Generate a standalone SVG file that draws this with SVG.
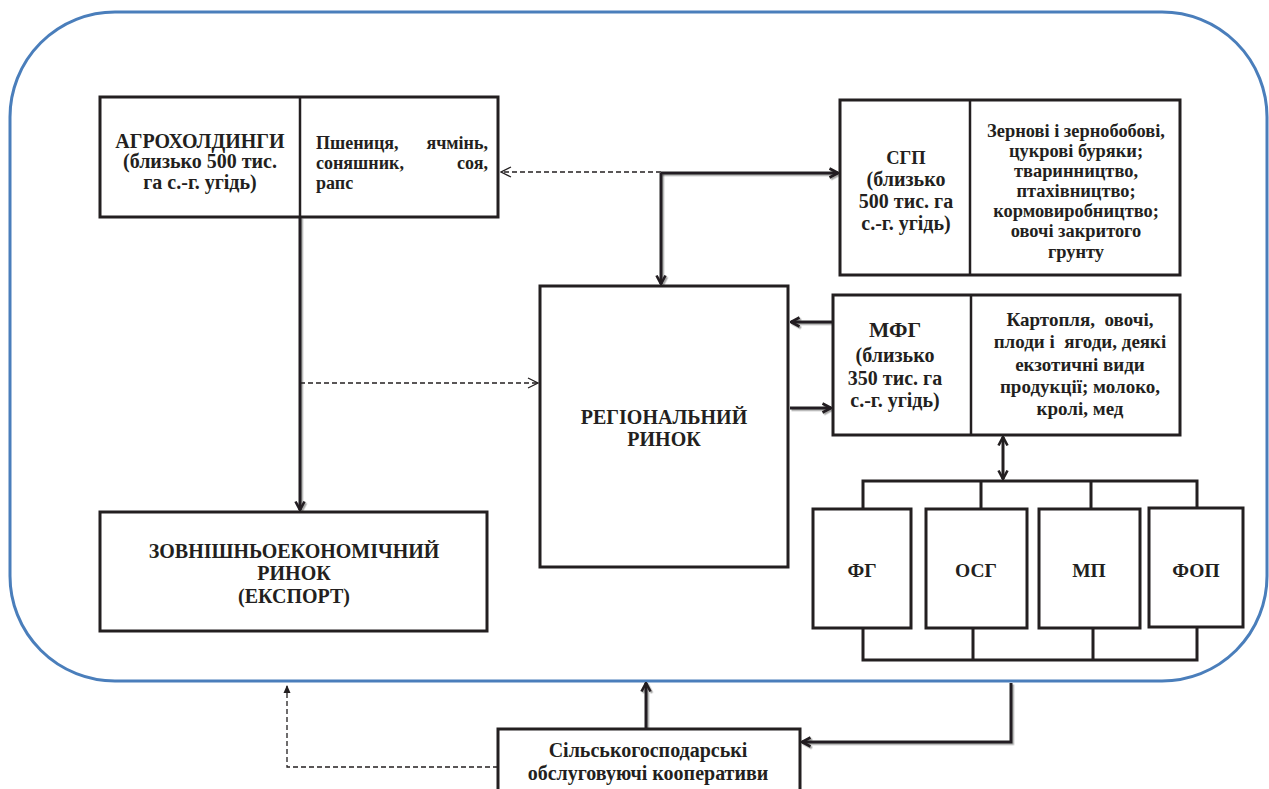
<svg xmlns="http://www.w3.org/2000/svg" width="1269" height="789" viewBox="0 0 1269 789">
<defs>
<style>
.box{fill:#fff;stroke:#231f20;stroke-width:3}
.div{stroke:#231f20;stroke-width:2.5}
.t{font-family:"Liberation Serif","Times New Roman",serif;font-weight:bold;fill:#231f20;text-anchor:middle}
.tl{font-family:"Liberation Serif","Times New Roman",serif;font-weight:bold;fill:#231f20}
.solid{fill:none;stroke:#231f20;stroke-width:3}
.dash{fill:none;stroke:#231f20;stroke-width:1.3;stroke-dasharray:5 3}
.thin{fill:none;stroke:#231f20;stroke-width:1.3}
</style>
<marker id="ah" markerUnits="userSpaceOnUse" viewBox="0 0 12 12" refX="10.5" refY="6" markerWidth="12" markerHeight="12" orient="auto-start-reverse">
<path d="M2,1.5 L10.5,6 L2,10.5" fill="none" stroke="#231f20" stroke-width="2.6"/>
</marker>
<marker id="ao" markerUnits="userSpaceOnUse" viewBox="0 0 12 12" refX="11" refY="6" markerWidth="12" markerHeight="12" orient="auto-start-reverse">
<path d="M1,1 L11,6 L1,11" fill="none" stroke="#231f20" stroke-width="1.3"/>
</marker>
<marker id="af" markerUnits="userSpaceOnUse" viewBox="0 0 8 8" refX="7" refY="4" markerWidth="8" markerHeight="8" orient="auto">
<path d="M0,0.5 L8,4 L0,7.5 Z" fill="#231f20"/>
</marker>
<filter id="sh" filterUnits="userSpaceOnUse" x="0" y="0" width="1269" height="789">
<feDropShadow dx="1.5" dy="1.5" stdDeviation="0.6" flood-color="#000" flood-opacity="0.35"/>
</filter>
</defs>
<rect width="1269" height="789" fill="#fff"/>
<rect id="frame" x="10" y="12" width="1257" height="669" rx="105" ry="105" fill="none" stroke="#4a7ebb" stroke-width="3"/>

<g id="connectors">
<path class="solid" filter="url(#sh)" d="M300,217 V510" marker-end="url(#ah)"/>
<path class="dash" d="M300,383 H538" marker-end="url(#ao)"/>
<path class="dash" d="M661,172 H501" marker-end="url(#ao)"/>
<path class="solid" filter="url(#sh)" d="M661,173 H838" marker-end="url(#ah)"/>
<path class="solid" filter="url(#sh)" d="M661,173 V284" marker-end="url(#ah)"/>
<path class="solid" filter="url(#sh)" d="M833,322 H791" marker-end="url(#ah)"/>
<path class="solid" filter="url(#sh)" d="M790,408 H831" marker-end="url(#ah)"/>
<path class="thin" d="M280,148 H318" marker-start="url(#ao)" marker-end="url(#ao)"/>
<path class="thin" d="M952,150 H985" marker-start="url(#ao)" marker-end="url(#ao)"/>
<path class="thin" d="M952,379 H985" marker-start="url(#ao)" marker-end="url(#ao)"/>
<path class="solid" d="M1003,437 V479" marker-start="url(#ah)" marker-end="url(#ah)"/>
<path class="solid" d="M863,509 V481 H1197 V509 M981,481 V509 M1091,481 V509"/>
<path class="solid" d="M863,628 V660 H1197 V627 M973,628 V660 M1093,628 V660"/>
<path class="solid" filter="url(#sh)" d="M646,729 V683" marker-end="url(#ah)"/>
<path class="solid" filter="url(#sh)" d="M1011,683 V742 H802" marker-end="url(#ah)"/>
<path class="dash" d="M498,767 H287 V686" marker-end="url(#af)"/>
</g>

<g id="agro">
<rect class="box" x="100" y="97" width="398" height="120"/>
<line class="div" x1="300" y1="97" x2="300" y2="217"/>
<text class="t" font-size="20"><tspan x="200" y="148">АГРОХОЛДИНГИ</tspan><tspan x="200" y="168">(близько 500 тис.</tspan><tspan x="200" y="189">га с.-г. угідь)</tspan></text>
<text class="tl" font-size="18"><tspan x="316" y="149">Пшениця,</tspan> <tspan x="488" y="149" text-anchor="end">ячмінь,</tspan><tspan x="316" y="169">соняшник,</tspan> <tspan x="488" y="169" text-anchor="end">соя,</tspan><tspan x="316" y="189">рапс</tspan></text>
</g>

<g id="sgp">
<rect class="box" x="840" y="100" width="340" height="175"/>
<line class="div" x1="970" y1="100" x2="970" y2="275"/>
<text class="t" font-size="20"><tspan x="906" y="164" font-size="18.5">СГП</tspan><tspan x="906" y="186">(близько</tspan><tspan x="906" y="208">500 тис. га</tspan><tspan x="906" y="230">с.-г. угідь)</tspan></text>
<text class="t" font-size="18.4"><tspan x="1076" y="137">Зернові і зернобобові,</tspan><tspan x="1076" y="157">цукрові буряки;</tspan><tspan x="1076" y="177">тваринництво,</tspan><tspan x="1076" y="197">птахівництво;</tspan><tspan x="1076" y="217">кормовиробництво;</tspan><tspan x="1076" y="237">овочі закритого</tspan><tspan x="1076" y="258">грунту</tspan></text>
</g>

<g id="mfg">
<rect class="box" x="833" y="295" width="347" height="140"/>
<line class="div" x1="971" y1="295" x2="971" y2="435"/>
<text class="t" font-size="20"><tspan x="895" y="337" font-size="21.5">МФГ</tspan><tspan x="895" y="362">(близько</tspan><tspan x="895" y="385">350 тис. га</tspan><tspan x="895" y="407">с.-г. угідь)</tspan></text>
<text class="t" font-size="19" xml:space="preserve"><tspan x="1080" y="326">Картопля,  овочі,</tspan><tspan x="1080" y="348">плоди і  ягоди, деякі</tspan><tspan x="1080" y="371">екзотичні види</tspan><tspan x="1080" y="393">продукції; молоко,</tspan><tspan x="1080" y="415">кролі, мед</tspan></text>
</g>

<g id="regional">
<rect class="box" x="540" y="286" width="248" height="281"/>
<text class="t" font-size="20"><tspan x="664" y="424">РЕГІОНАЛЬНИЙ</tspan><tspan x="664" y="446">РИНОК</tspan></text>
</g>

<g id="export">
<rect class="box" x="100" y="512" width="387" height="119"/>
<text class="t" font-size="20"><tspan x="294" y="558">ЗОВНІШНЬОЕКОНОМІЧНИЙ</tspan><tspan x="294" y="580">РИНОК</tspan><tspan x="294" y="603">(ЕКСПОРТ)</tspan></text>
</g>

<g id="fg"><rect class="box" x="813" y="509" width="98" height="119"/><text class="t" font-size="19.5" x="862" y="577">ФГ</text></g>
<g id="osg"><rect class="box" x="926" y="509" width="101" height="119"/><text class="t" font-size="19.5" x="976" y="577">ОСГ</text></g>
<g id="mp"><rect class="box" x="1039" y="509" width="101" height="119"/><text class="t" font-size="19.5" x="1089" y="577">МП</text></g>
<g id="fop"><rect class="box" x="1149" y="508" width="94" height="119"/><text class="t" font-size="19.5" x="1196" y="577">ФОП</text></g>

<g id="coop">
<rect class="box" x="498" y="729" width="302" height="75"/>
<text class="t" font-size="20"><tspan x="648" y="757">Сільськогосподарські</tspan><tspan x="648" y="780">обслуговуючі кооперативи</tspan></text>
</g>
</svg>
